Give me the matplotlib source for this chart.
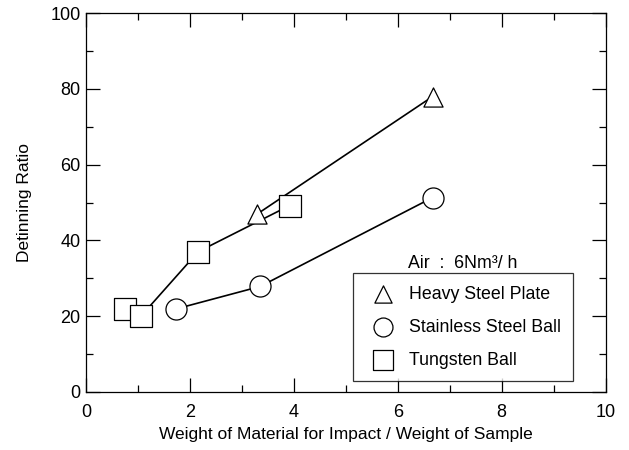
import matplotlib.pyplot as plt
from matplotlib.ticker import MultipleLocator

plt.rcParams['font.family'] = ['Liberation Sans', 'DejaVu Sans']

# data
plate_x = [3.3, 6.67]
plate_y = [47, 78]
stainless_x = [1.74, 3.35, 6.67]
stainless_y = [21.9, 27.8, 51.3]
tungsten_x = [0.75, 1.06, 2.16, 3.92]
tungsten_y = [21.9, 20.0, 37.0, 49.2]

fig = plt.figure(figsize=(6.29, 4.5), dpi=100)
ax = fig.add_axes([0.1367, 0.1296, 0.8261, 0.8408])

ax.plot(plate_x, plate_y, color='black', lw=1.2, zorder=1)
ax.plot(stainless_x, stainless_y, color='black', lw=1.2, zorder=1)
ax.plot(tungsten_x, tungsten_y, color='black', lw=1.2, zorder=1)

h1 = ax.scatter(plate_x, plate_y, marker='^', s=190, facecolor='white',
                edgecolor='black', linewidth=0.9, zorder=3, label='Heavy Steel Plate')
h2 = ax.scatter(stainless_x, stainless_y, marker='o', s=230, facecolor='white',
                edgecolor='black', linewidth=0.9, zorder=3, label='Stainless Steel Ball')
h3 = ax.scatter(tungsten_x, tungsten_y, marker='s', s=260, facecolor='white',
                edgecolor='black', linewidth=0.9, zorder=3, label='Tungsten Ball')

ax.set_xlim(0, 10)
ax.set_ylim(0, 100)
ax.xaxis.set_major_locator(MultipleLocator(2))
ax.xaxis.set_minor_locator(MultipleLocator(1))
ax.yaxis.set_major_locator(MultipleLocator(20))
ax.yaxis.set_minor_locator(MultipleLocator(10))
ax.tick_params(which='both', direction='in', top=True, right=True, labelsize=13, width=0.9)
ax.tick_params(which='major', length=10)
ax.tick_params(which='minor', length=5)
ax.tick_params(axis='x', which='major', pad=9)
ax.tick_params(axis='y', which='major', pad=4)
for s in ax.spines.values():
    s.set_linewidth(0.9)

ax.set_xlabel('Weight of Material for Impact / Weight of Sample', fontsize=12.5, labelpad=4)
ax.set_ylabel('Detinning Ratio', fontsize=12.5, labelpad=13)

leg = ax.legend(handles=[h1, h2, h3], loc='upper left', bbox_to_anchor=(0.514, 0.314),
                borderaxespad=0, fontsize=12.8, frameon=True, fancybox=False,
                edgecolor='black', handletextpad=0.5, labelspacing=0.9, borderpad=0.72,
                scatterpoints=1, markerscale=0.9, handlelength=1.9)
leg.get_frame().set_linewidth(0.9)

ax.text(6.2, 34, 'Air  :  6Nm\u00b3/ h', fontsize=12.8, ha='left', va='center')

fig.savefig('out.png', dpi=100)
